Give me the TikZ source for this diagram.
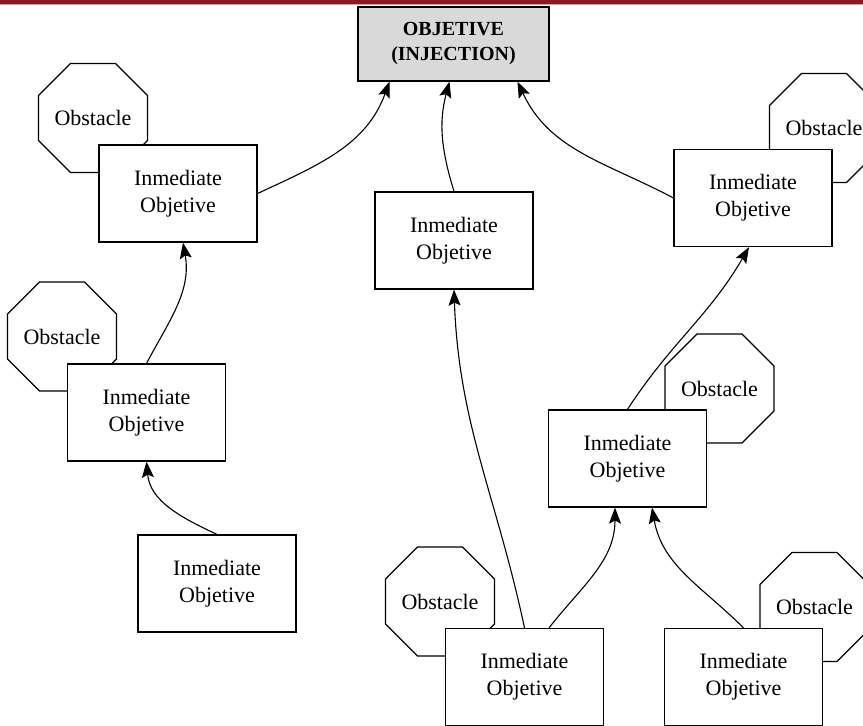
\documentclass[tikz,border=0pt]{standalone}
\usepackage{fontspec}
\setmainfont{Liberation Serif}
\usetikzlibrary{shapes.geometric,arrows.meta}
\definecolor{barred}{HTML}{8E1721}
\definecolor{barpink}{HTML}{D69AA2}
\definecolor{goalgray}{HTML}{D9D9D9}

\begin{document}
\begin{tikzpicture}[x=1pt,y=1pt,
  line width=1.2pt,
  goalbox/.style={draw, fill=goalgray, minimum width=191pt, minimum height=74pt,
    align=center, inner sep=0pt, font=\fontsize{20}{25}\selectfont\bfseries},
  subgoal/.style={draw, fill=white, minimum width=158pt, minimum height=97pt,
    align=center, inner sep=0pt, font=\fontsize{22}{27}\selectfont},
  obstacle/.style={draw, fill=white, regular polygon, regular polygon sides=8,
    minimum size=107pt, inner sep=0pt, font=\fontsize{22}{27}\selectfont},
  link/.style={-{Stealth[length=16pt,width=12pt,inset=3pt]}, line width=1.1pt}
]
\useasboundingbox (0,0) rectangle (863,726);

% header bar
\fill[barred] (0,722) rectangle (863,726);
\fill[barpink] (0,720.8) rectangle (863,722);

% main objective
\node[goalbox] (M) at (453.5,682) {OBJETIVE\\(INJECTION)};

% obstacles (drawn first so the boxes overlap them)
\node[obstacle] (O1) at (93,608)     {Obstacle};
\node[obstacle] (O2) at (824,598)    {Obstacle};
\node[obstacle] (O3) at (62,389.5)   {Obstacle};
\node[obstacle] (O6) at (719.5,337.5){Obstacle};
\node[obstacle] (O4) at (440,124.5)  {Obstacle};
\node[obstacle] (O5) at (814.5,119)  {Obstacle};

% immediate objectives
\node[subgoal] (B1) at (178,532.5)   {Inmediate\\Objetive};
\node[subgoal] (B2) at (753,528)     {Inmediate\\Objetive};
\node[subgoal] (B8) at (454,485.5)   {Inmediate\\Objetive};
\node[subgoal] (B3) at (146.5,313.5) {Inmediate\\Objetive};
\node[subgoal] (B6) at (627.5,267.5) {Inmediate\\Objetive};
\node[subgoal] (B7) at (217,142.5)   {Inmediate\\Objetive};
\node[subgoal] (B4) at (524.5,49)    {Inmediate\\Objetive};
\node[subgoal] (B5) at (743.5,49)    {Inmediate\\Objetive};

% connections
\draw[link] (B1.east) to[out=25,in=-110] ([xshift=-64pt]M.south);
\draw[link] (B8.north) to[out=107,in=-105] ([xshift=-4pt]M.south);
\draw[link] (B2.west) to[out=152,in=-65] ([xshift=64pt]M.south);
\draw[link] (B3.north) to[out=62,in=-80] ([xshift=5pt]B1.south);
\draw[link] (B7.north) to[out=155,in=-85] (B3.south);
\draw[link] (B4.north) to[out=102,in=-88] (B8.south);
\draw[link] ([xshift=24.5pt]B4.north) to[out=52,in=-90] ([xshift=-12.5pt]B6.south);
\draw[link] (B5.north) to[out=135,in=-80] ([xshift=24.5pt]B6.south);
\draw[link] (B6.north) to[out=57,in=-120] ([xshift=-4pt]B2.south);
\end{tikzpicture}
\end{document}
